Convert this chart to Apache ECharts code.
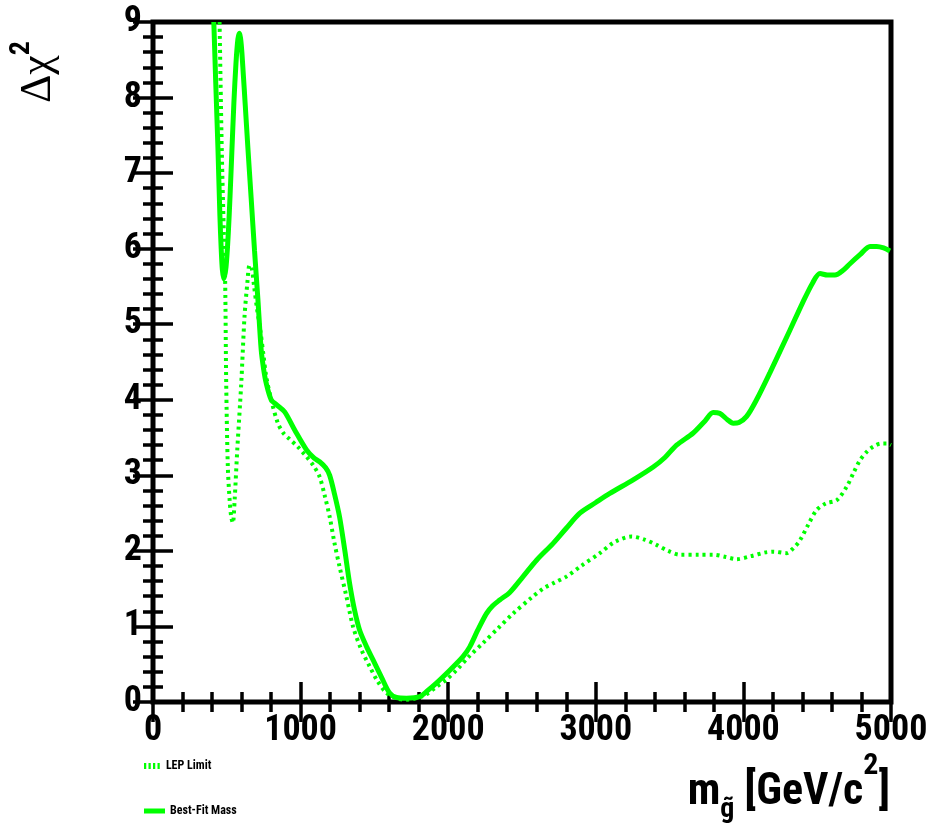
<!DOCTYPE html>
<html>
<head>
<meta charset="utf-8">
<script src="https://cdn.jsdelivr.net/npm/echarts@6/dist/echarts.min.js"></script>
<style>
  html, body { margin: 0; padding: 0; background: #fff; }
  #chart { width: 928px; height: 828px; }
</style>
</head>
<body>
<div id="chart"></div>
<script>
// Gluino mass scan: Delta chi^2 versus m_gluino
const bestFitMass = [412, 425, 440, 453, 462, 470, 480, 495, 510, 522, 534, 548, 562, 575, 586, 598, 612, 625, 643, 665, 688, 711, 733, 750, 767, 801, 840, 892, 960, 1039, 1090, 1129, 1170, 1197, 1230, 1264, 1300, 1332, 1365, 1400, 1450, 1490, 1550, 1603, 1650, 1717, 1807, 1860, 1920, 1990, 2056, 2100, 2146, 2200, 2259, 2300, 2349, 2417, 2507, 2600, 2711, 2800, 2892, 3000, 3095, 3253, 3389, 3470, 3547, 3660, 3740, 3795, 3840, 3890, 3931, 3970, 4022, 4089, 4180, 4315, 4400, 4470, 4519, 4570, 4620, 4680, 4722, 4790, 4858, 4903, 4950, 4993];
const bestFitChi2 = [9.0, 8.2, 7.33, 6.45, 6.0, 5.72, 5.6, 5.76, 6.2, 6.7, 7.27, 7.93, 8.45, 8.77, 8.85, 8.7, 8.3, 7.9, 7.33, 6.67, 5.97, 5.32, 4.66, 4.4, 4.22, 4.0, 3.93, 3.84, 3.6, 3.34, 3.23, 3.18, 3.1, 3.0, 2.75, 2.45, 2.0, 1.57, 1.22, 0.95, 0.72, 0.56, 0.32, 0.12, 0.06, 0.05, 0.07, 0.15, 0.25, 0.38, 0.51, 0.6, 0.73, 0.95, 1.17, 1.27, 1.35, 1.45, 1.66, 1.88, 2.10, 2.30, 2.50, 2.64, 2.76, 2.94, 3.11, 3.24, 3.40, 3.56, 3.72, 3.83, 3.82, 3.74, 3.69, 3.70, 3.78, 4.0, 4.36, 4.92, 5.28, 5.55, 5.67, 5.65, 5.65, 5.72, 5.80, 5.92, 6.03, 6.03, 6.01, 5.97];

const lepMass = [451, 466, 480, 489, 496, 507, 520, 530, 541, 553, 571, 598, 620, 639, 654, 668, 685, 705, 725, 748, 767, 801, 846, 887, 925, 980, 1039, 1090, 1129, 1165, 1197, 1230, 1264, 1310, 1355, 1410, 1468, 1520, 1581, 1649, 1720, 1785, 1850, 1920, 1990, 2056, 2140, 2236, 2340, 2439, 2564, 2643, 2720, 2801, 2900, 3027, 3130, 3242, 3330, 3411, 3490, 3569, 3700, 3795, 3880, 3954, 4050, 4150, 4202, 4293, 4340, 4383, 4440, 4496, 4560, 4632, 4700, 4750, 4790, 4840, 4880, 4930, 4971, 5000];
const lepChi2 = [9.0, 7.3, 6.2, 5.55, 4.22, 3.11, 2.65, 2.45, 2.37, 2.67, 3.34, 4.22, 5.10, 5.54, 5.78, 5.75, 5.5, 5.2, 4.95, 4.6, 4.31, 4.0, 3.69, 3.55, 3.48, 3.38, 3.25, 3.12, 2.98, 2.72, 2.45, 2.1, 1.79, 1.4, 1.0, 0.7, 0.47, 0.28, 0.12, 0.05, 0.03, 0.05, 0.1, 0.2, 0.3, 0.42, 0.6, 0.78, 0.98, 1.17, 1.38, 1.50, 1.58, 1.66, 1.80, 1.97, 2.12, 2.19, 2.15, 2.08, 2.0, 1.95, 1.95, 1.95, 1.92, 1.89, 1.93, 1.98, 1.99, 1.97, 2.04, 2.14, 2.35, 2.54, 2.63, 2.67, 2.85, 3.05, 3.20, 3.32, 3.38, 3.42, 3.42, 3.40];

const xMin = 0, xMax = 5000, xStep = 1000;
const yMin = 0, yMax = 9, yStep = 1;

const zip = (xs, ys) => xs.map((x, i) => [x, ys[i]]);

const narrow = '"Liberation Sans Narrow", "Arial Narrow", "Roboto Condensed", "DejaVu Sans Condensed", sans-serif';
const green = '#00ff00';

const tickStyle = {
  axisTick: { show: true, inside: true, length: 20, lineStyle: { color: '#000', width: 3.5 } },
  minorTick: { show: true, splitNumber: 5, length: 10, lineStyle: { color: '#000', width: 3.5 } },
  axisLine: { show: false },
  splitLine: { show: false },
  minorSplitLine: { show: false }
};

const tickLabel = {
  show: true, margin: 11, color: '#000', fontSize: 36, fontWeight: 'bold', fontFamily: narrow,
  formatter: (v) => String(v)
};

// dotted legend swatch: four short dashes
const dottedIcon = 'path://M0,0h3v8h-3z M6,0h3v8h-3z M12,0h3v8h-3z M18,0h3v8h-3z';

const chart = echarts.init(document.getElementById('chart'), null, { renderer: 'canvas' });

chart.setOption({
  animation: false,
  backgroundColor: '#fff',
  grid: {
    left: 153, top: 22, right: 37, bottom: 126,
    containLabel: false, outerBoundsMode: 'none',
    show: true, borderColor: '#000', borderWidth: 5, backgroundColor: 'transparent'
  },
  xAxis: [
    Object.assign({
      type: 'value', position: 'bottom', min: xMin, max: xMax, interval: xStep,
      axisLabel: tickLabel
    }, tickStyle),
    Object.assign({
      type: 'value', position: 'top', min: xMin, max: xMax, interval: xStep,
      axisLabel: { show: false }
    }, tickStyle)
  ],
  yAxis: [
    Object.assign({
      type: 'value', position: 'left', min: yMin, max: yMax, interval: yStep,
      axisLabel: tickLabel
    }, tickStyle),
    Object.assign({
      type: 'value', position: 'right', min: yMin, max: yMax, interval: yStep,
      axisLabel: { show: false }
    }, tickStyle)
  ],
  legend: [
    {
      data: [{ name: 'LEP Limit', icon: dottedIcon }], left: 139, top: 755,
      itemWidth: 18, itemHeight: 6, itemGap: 0,
      textStyle: { color: '#000', fontSize: 12, fontWeight: 'bold', fontFamily: narrow }
    },
    {
      data: [{ name: 'Best-Fit Mass', icon: 'rect' }], left: 139, top: 800,
      itemWidth: 21, itemHeight: 5, itemGap: 0,
      textStyle: { color: '#000', fontSize: 12, fontWeight: 'bold', fontFamily: narrow }
    }
  ],
  series: [
    {
      name: 'LEP Limit', type: 'line', xAxisIndex: 0, yAxisIndex: 0,
      data: zip(lepMass, lepChi2), showSymbol: false, symbol: 'none', smooth: 0.3,
      lineStyle: { color: green, width: 4, type: [3, 4] }, itemStyle: { color: green }, z: 3
    },
    {
      name: 'Best-Fit Mass', type: 'line', xAxisIndex: 0, yAxisIndex: 0,
      data: zip(bestFitMass, bestFitChi2), showSymbol: false, symbol: 'none', smooth: 0.3,
      lineStyle: { color: green, width: 5 }, itemStyle: { color: green }, z: 4
    }
  ],
  graphic: [
    {
      // y-axis title, reads bottom to top
      type: 'text', x: 8, y: 72, rotation: Math.PI / 2,
      style: {
        text: '{a|Δχ}{b|2}', align: 'center', verticalAlign: 'top',
        rich: {
          a: { fontFamily: '"Liberation Serif", "DejaVu Serif", serif', fontSize: 44, lineHeight: 44, padding: [8, 0, 0, 0], fill: '#000', verticalAlign: 'top' },
          b: { fontFamily: narrow, fontWeight: 'bold', fontSize: 28, lineHeight: 28, padding: [0, 0, 0, 0], fill: '#000', verticalAlign: 'top' }
        }
      }
    },
    {
      // x-axis title with subscript gluino and squared unit
      type: 'text', x: 890, y: 743,
      style: {
        text: '{m|m}{s|g\u0303}{m| [GeV/c}{p|2}{m|]}', align: 'right', verticalAlign: 'top',
        rich: {
          m: { fontFamily: narrow, fontWeight: 'bold', fontSize: 44, lineHeight: 44, padding: [28, 0, 0, 0], fill: '#000', verticalAlign: 'top' },
          s: { fontFamily: narrow, fontWeight: 'bold', fontSize: 28, lineHeight: 28, padding: [53, 0, 0, 0], fill: '#000', verticalAlign: 'top' },
          p: { fontFamily: narrow, fontWeight: 'bold', fontSize: 30, lineHeight: 30, padding: [8, 0, 0, 0], fill: '#000', verticalAlign: 'top' }
        }
      }
    }
  ]
});
</script>
</body>
</html>
